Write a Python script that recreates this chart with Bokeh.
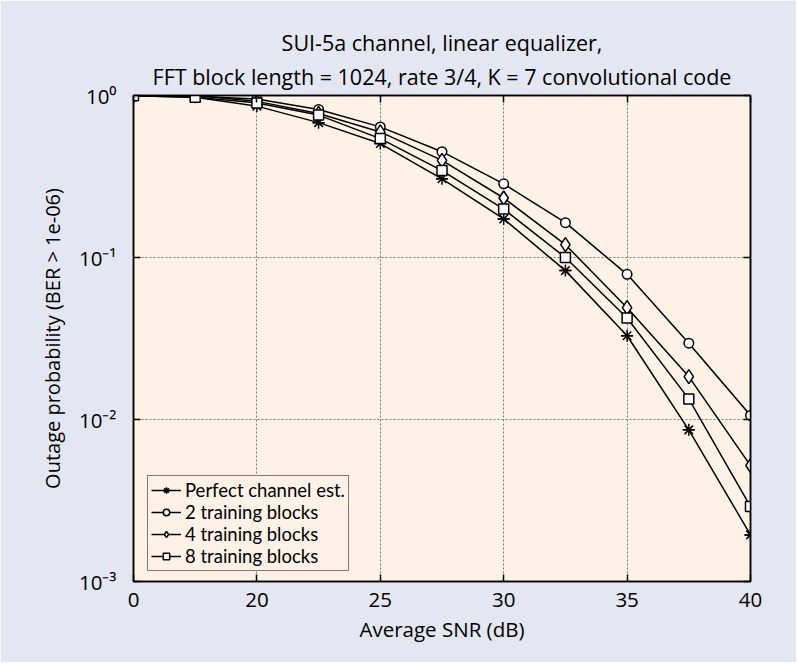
from bokeh.plotting import figure
from bokeh.models import (Range1d, FixedTicker, LinearAxis, LogAxis, Title,
                          Legend, LegendItem)
from bokeh.embed import file_html
from bokeh.resources import INLINE

# ---- data ----
snr = [15, 17.5, 20, 22.5, 25, 27.5, 30, 32.5, 35, 37.5, 40]
perfect = [0.995, 0.975, 0.86, 0.68, 0.505, 0.306, 0.173, 0.083, 0.0329, 0.00863, 0.00194]
train2 = [0.995, 0.99, 0.95, 0.82, 0.64, 0.45, 0.285, 0.164, 0.0787, 0.0296, 0.0106]
train4 = [0.995, 1.0, 0.92, 0.775, 0.596, 0.398, 0.233, 0.12, 0.049, 0.0184, 0.0052]
train8 = [0.995, 0.975, 0.90, 0.757, 0.542, 0.344, 0.199, 0.100, 0.0423, 0.0134, 0.0029]

series_names = ["Perfect channel est.", "2 training blocks", "4 training blocks", "8 training blocks"]
x_ticks = [15, 20, 25, 30, 35, 40]
x_tick_labels = ["0", "20", "25", "30", "35", "40"]
y_ticks = [0.001, 0.01, 0.1, 1]
y_tick_labels = ["10\u207b\u00b3", "10\u207b\u00b2", "10\u207b\u00b9", "10\u2070"]

title1 = "SUI-5a channel, linear equalizer,"
title2 = "FFT block length = 1024, rate 3/4, K = 7 convolutional code"
x_label = "Average SNR (dB)"
y_label = "Outage probability (BER > 1e-06)"

FONT = "Open Sans"
LFONT = "Lato"
OUTER = "#E4E6F2"
INNER = "#FEF2E6"
W, H = 796, 662
FL, FR, FT, FB = 133, 750, 95, 581   # frame edges in canvas pixels

p = figure(width=W, height=H, output_backend="svg", toolbar_location=None,
           x_range=Range1d(15, 40), y_range=Range1d(0.001, 1), y_axis_type="log",
           min_border_left=FL, min_border_right=W - FR, min_border_top=FT,
           min_border_bottom=H - FB)
p.background_fill_color = INNER
p.border_fill_color = OUTER
p.outline_line_color = "black"
p.outline_line_width = 1.5

def style_axis(ax, fs="20.5px"):
    ax.axis_line_color = "black"
    ax.axis_line_width = 1.5
    ax.major_tick_line_color = "black"
    ax.major_tick_line_width = 1.5
    ax.major_tick_in = 7
    ax.major_tick_out = 0
    ax.minor_tick_line_color = None
    ax.major_label_text_font = FONT
    ax.major_label_text_font_size = fs
    ax.major_label_text_color = "black"
    ax.axis_label_text_font = FONT
    ax.axis_label_text_font_size = fs
    ax.axis_label_text_font_style = "normal"
    ax.axis_label_text_color = "black"

xa = p.xaxis[0]
xa.ticker = FixedTicker(ticks=x_ticks)
xa.major_label_overrides = {t: l for t, l in zip(x_ticks, x_tick_labels)}
xa.axis_label = x_label
style_axis(xa)
xa.major_label_standoff = 11
xa.axis_label_standoff = 5

ya = p.yaxis[0]
ya.ticker = FixedTicker(ticks=y_ticks)
ya.major_label_overrides = {t: l for t, l in zip(y_ticks, y_tick_labels)}
ya.axis_label = y_label
style_axis(ya)
ya.axis_label_text_font_size = "20px"
ya.major_label_standoff = 17
ya.axis_label_standoff = 10

top = LinearAxis(ticker=FixedTicker(ticks=x_ticks),
                 major_label_overrides={t: "" for t in x_ticks})
style_axis(top)
top.major_label_standoff = 0
p.add_layout(top, "above")
right = LogAxis(ticker=FixedTicker(ticks=y_ticks),
                major_label_overrides={t: "" for t in y_ticks})
style_axis(right)
p.add_layout(right, "right")

p.xgrid.ticker = FixedTicker(ticks=[20, 25, 30, 35])
p.ygrid.ticker = FixedTicker(ticks=[0.01, 0.1])
for g in (p.xgrid[0], p.ygrid[0]):
    g.grid_line_color = "#7a7a7a"
    g.grid_line_dash = "2 2"
    g.grid_line_width = 1

# markers: (marker, size)
styles = [
    [("asterisk", 12), ("dash", 12)],
    [("circle", 9.5)],
    [("diamond", 14)],
    [("square", 10)],
]
items = []
for name, ys, mks in zip(series_names, [perfect, train2, train4, train8], styles):
    rs = [p.line(snr, ys, line_color="black", line_width=1.5)]
    for mk, sz in mks:
        rs.append(p.scatter(snr, ys, marker=mk, size=sz, line_color="black",
                            line_width=1.5, fill_color="white"))
    items.append(LegendItem(label=name, renderers=rs))

legend = Legend(items=items, location=(14, 10))
legend.label_text_font = LFONT
legend.label_text_font_size = "18.5px"
legend.label_text_color = "black"
legend.label_standoff = 4
legend.glyph_width = 30
legend.glyph_height = 16
legend.label_height = 16
legend.spacing = 0
legend.padding = 3
legend.margin = 0
legend.border_line_color = "black"
legend.border_line_width = 1.5
legend.background_fill_color = INNER
legend.background_fill_alpha = 1.0
p.add_layout(legend, "center")

# two-line title: the later one is placed further from the plot
for txt, so in ((title2, 10), (title1, -4)):
    t = Title(text=txt, align="center", text_font=FONT, text_font_size="21.5px",
              text_font_style="normal", text_color="black", standoff=so)
    p.add_layout(t, "above")

open("out.html", "w").write(file_html(p, INLINE))
